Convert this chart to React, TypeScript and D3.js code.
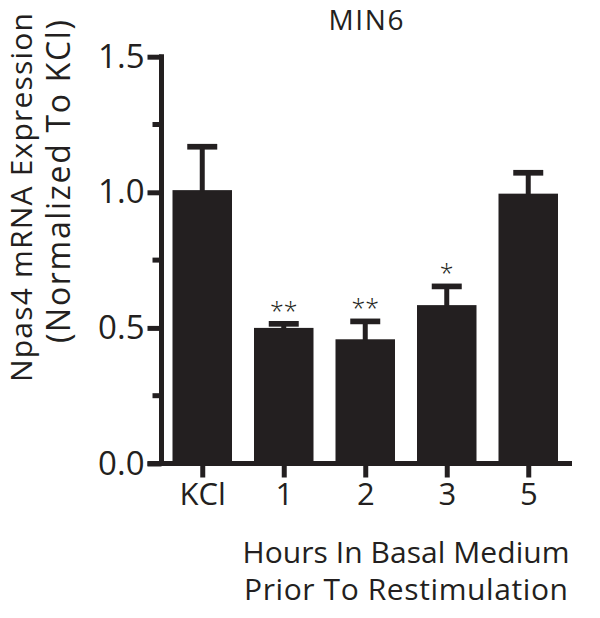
import React, { useRef, useEffect } from 'react';
import * as d3 from 'd3';

const categories = ['KCl', '1', '2', '3', '5'];
const means = [1.008, 0.5, 0.458, 0.584, 0.995];
const errorTops = [1.168, 0.515, 0.524, 0.653, 1.072];
const stars = ['', '**', '**', '*', ''];
const yTicks = [0, 0.5, 1.0, 1.5];
const yMinorTicks = [0.25, 0.75, 1.25];
const title = 'MIN6';
const yTitle = ['Npas4 mRNA Expression', '(Normalized To KCl)'];
const xTitle = ['Hours In Basal Medium', 'Prior To Restimulation'];

const W = 600;
const H = 618;
const INK = '#231f20';
const FONT = "'Open Sans', 'DejaVu Sans', sans-serif";

export default function App() {
  const svgRef = useRef<SVGSVGElement>(null);

  useEffect(() => {
    const svg = d3.select(svgRef.current);
    svg.selectAll('*').remove();

    const axisX = 161.5;
    const x = d3.scalePoint<string>()
      .domain(categories)
      .range([axisX, 569])
      .padding(0.5);
    const y = d3.scaleLinear().domain([0, 1.5]).range([463.5, 56.7]);
    const barW = 59.5;
    const capW = 30;
    const lw = 5;

    // bars
    svg.append('g')
      .selectAll('rect')
      .data(categories)
      .join('rect')
      .attr('x', d => x(d)! - barW / 2)
      .attr('width', barW)
      .attr('y', (d, i) => y(means[i]))
      .attr('height', (d, i) => y(0) - y(means[i]))
      .attr('fill', INK);

    // error bars
    const eb = svg.append('g').attr('stroke', INK);
    eb.selectAll('line.stem')
      .data(categories)
      .join('line')
      .attr('class', 'stem')
      .attr('x1', d => x(d)!)
      .attr('x2', d => x(d)!)
      .attr('y1', (d, i) => y(means[i]) + 1)
      .attr('y2', (d, i) => y(errorTops[i]))
      .attr('stroke-width', lw);
    eb.selectAll('line.cap')
      .data(categories)
      .join('line')
      .attr('class', 'cap')
      .attr('x1', d => x(d)! - capW / 2)
      .attr('x2', d => x(d)! + capW / 2)
      .attr('y1', (d, i) => y(errorTops[i]))
      .attr('y2', (d, i) => y(errorTops[i]))
      .attr('stroke-width', 5.7);

    // significance stars
    svg.append('g')
      .selectAll('text')
      .data(categories)
      .join('text')
      .attr('x', d => x(d)!)
      .attr('y', (d, i) => y(errorTops[i]) - 4)
      .attr('text-anchor', 'middle')
      .attr('font-family', FONT)
      .attr('font-size', 25)
      .attr('font-weight', 300)
      .attr('fill', INK)
      .text((d, i) => stars[i]);

    // y axis
    const yAxis = svg.append('g')
      .attr('transform', `translate(${axisX},0)`)
      .call(d3.axisLeft(y).tickValues(yTicks).tickSize(14).tickPadding(3).tickFormat(d3.format('.1f')));
    yAxis.attr('font-size', null).attr('font-family', null);
    yAxis.select('.domain').remove();
    yAxis.selectAll('.tick line').attr('stroke', INK).attr('stroke-width', lw);
    yAxis.selectAll('.tick text')
      .attr('font-family', FONT).attr('font-size', 33).attr('fill', INK);
    yAxis.append('g')
      .selectAll('line')
      .data(yMinorTicks)
      .join('line')
      .attr('x1', -9).attr('x2', 0)
      .attr('y1', d => y(d)).attr('y2', d => y(d))
      .attr('stroke', INK).attr('stroke-width', lw);
    yAxis.append('line')
      .attr('x1', 0).attr('x2', 0)
      .attr('y1', y(1.5) - lw / 2).attr('y2', y(0))
      .attr('stroke', INK).attr('stroke-width', lw);

    // x axis
    const xAxis = svg.append('g')
      .attr('transform', `translate(0,${y(0)})`)
      .call(d3.axisBottom(x).tickSize(14).tickPadding(5));
    xAxis.attr('font-size', null).attr('font-family', null);
    xAxis.select('.domain').remove();
    xAxis.selectAll('.tick line').attr('stroke', INK).attr('stroke-width', lw);
    xAxis.selectAll('.tick text')
      .attr('font-family', FONT).attr('font-size', 31).attr('fill', INK);
    xAxis.append('line')
      .attr('x1', axisX - 14).attr('x2', 572)
      .attr('y1', 0).attr('y2', 0)
      .attr('stroke', INK).attr('stroke-width', lw);

    // titles
    const t = svg.append('g').attr('font-family', FONT).attr('fill', INK);
    t.append('text')
      .attr('x', 366).attr('y', 30)
      .attr('text-anchor', 'middle')
      .attr('font-size', 28)
      .attr('textLength', 75)
      .text(title);

    const yCenters = [197.5, 181.5];
    const yBase = [32, 70];
    const yLens = [369, 323];
    const ySizes = [30, 32];
    t.selectAll('text.ytitle')
      .data(yTitle)
      .join('text')
      .attr('class', 'ytitle')
      .attr('text-anchor', 'middle')
      .attr('font-size', (d, i) => ySizes[i])
      .attr('textLength', (d, i) => yLens[i])
      .attr('transform', (d, i) => `translate(${yBase[i]},${yCenters[i]}) rotate(-90)`)
      .text(d => d);

    const xBase = [563, 600];
    const xLens = [327, 324];
    t.selectAll('text.xtitle')
      .data(xTitle)
      .join('text')
      .attr('class', 'xtitle')
      .attr('text-anchor', 'middle')
      .attr('x', 406)
      .attr('y', (d, i) => xBase[i])
      .attr('font-size', 30)
      .attr('textLength', (d, i) => xLens[i])
      .text(d => d);
  }, []);

  return (
    <svg ref={svgRef} width={W} height={H} style={{ display: 'block', position: 'absolute', left: 0, top: 0 }} />
  );
}
